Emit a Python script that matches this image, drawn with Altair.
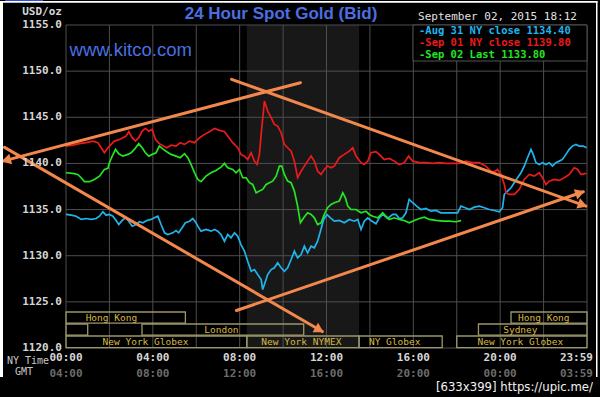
import math
import altair as alt
import pandas as pd

# ---------------- data (hours NY time, USD/oz) ----------------
AUG31 = [(0.0,1134.47),(0.24,1134.39),(0.47,1134.28),(0.70,1133.93),(0.93,1134.03),(1.16,1133.93),(1.39,1134.03),(1.54,1134.28),(1.70,1134.76),(1.85,1134.39),(2.00,1134.47),(2.16,1134.28),(2.31,1133.82),(2.43,1133.38),(2.59,1133.82),(2.74,1134.11),(2.89,1133.74),(3.05,1133.20),(3.23,1133.38),(3.38,1133.68),(3.54,1133.57),(3.72,1133.82),(3.92,1133.93),(4.07,1134.11),(4.23,1134.28),(4.38,1133.38),(4.54,1132.48),(4.69,1132.30),(4.92,1132.48),(5.07,1132.73),(5.19,1132.48),(5.35,1133.03),(5.50,1133.57),(5.69,1133.74),(5.84,1134.03),(5.99,1133.57),(6.07,1133.20),(6.22,1132.66),(6.45,1132.84),(6.68,1132.66),(6.84,1132.84),(6.99,1132.66),(7.14,1132.30),(7.30,1131.57),(7.45,1132.30),(7.60,1131.94),(7.76,1132.48),(7.91,1132.11),(8.06,1131.21),(8.22,1130.49),(8.37,1129.40),(8.53,1128.32),(8.68,1128.50),(8.83,1127.96),(8.99,1127.42),(9.06,1126.33),(9.14,1126.88),(9.29,1127.96),(9.45,1128.50),(9.60,1128.69),(9.75,1129.23),(9.91,1128.69),(10.06,1128.32),(10.21,1128.69),(10.37,1129.59),(10.52,1130.49),(10.67,1129.77),(10.83,1130.13),(10.98,1131.03),(11.13,1130.31),(11.29,1131.03),(11.44,1130.86),(11.59,1131.57),(11.72,1132.66),(11.87,1133.93),(12.02,1134.47),(12.18,1134.11),(12.36,1133.74),(12.59,1133.82),(12.82,1133.57),(13.05,1133.93),(13.28,1133.74),(13.44,1133.93),(13.59,1132.84),(13.74,1133.74),(13.90,1134.11),(14.05,1133.82),(14.28,1133.46),(14.43,1134.11),(14.59,1134.47),(14.82,1134.03),(15.05,1134.47),(15.20,1134.47),(15.35,1134.03),(15.51,1134.11),(15.66,1134.65),(15.81,1136.10),(15.97,1135.74),(16.15,1135.37),(16.35,1135.01),(16.58,1135.12),(16.81,1134.83),(17.04,1134.90),(17.27,1134.65),(17.50,1134.65),(17.81,1134.65),(18.04,1134.65),(18.19,1135.37),(18.39,1135.20),(18.58,1135.01),(18.81,1135.26),(19.04,1135.37),(19.27,1135.20),(19.50,1135.01),(19.73,1134.90),(19.96,1134.76),(20.11,1135.20),(20.19,1136.64),(20.34,1137.00),(20.50,1137.36),(20.65,1137.91),(20.80,1138.45),(20.96,1138.99),(21.11,1139.71),(21.26,1140.62),(21.42,1141.52),(21.52,1140.98),(21.65,1140.08),(21.80,1139.89),(21.95,1140.08),(22.11,1139.89),(22.26,1140.08),(22.41,1139.71),(22.57,1140.08),(22.72,1140.25),(22.87,1140.43),(23.03,1140.98),(23.18,1141.52),(23.33,1141.88),(23.49,1142.06),(23.64,1141.88),(23.83,1141.88),(23.98,1141.70)]

SEP01 = [(0.0,1141.88),(0.31,1141.98),(0.62,1142.14),(0.93,1142.25),(1.24,1142.42),(1.47,1142.25),(1.62,1141.70),(1.77,1141.16),(1.93,1141.70),(2.08,1142.06),(2.23,1142.42),(2.46,1142.60),(2.62,1142.79),(2.77,1142.96),(2.89,1143.44),(3.05,1142.79),(3.20,1142.42),(3.35,1142.79),(3.51,1143.50),(3.66,1143.80),(3.81,1143.50),(3.97,1143.69),(4.12,1142.60),(4.30,1142.14),(4.49,1141.88),(4.64,1141.70),(4.84,1141.98),(5.07,1141.88),(5.26,1142.25),(5.46,1142.06),(5.69,1142.42),(5.92,1142.25),(6.15,1142.79),(6.38,1143.15),(6.61,1143.44),(6.84,1143.80),(7.07,1143.58),(7.30,1143.44),(7.45,1142.96),(7.68,1142.25),(7.91,1141.70),(8.06,1140.98),(8.22,1140.79),(8.37,1140.43),(8.53,1141.16),(8.68,1140.25),(8.80,1139.89),(8.91,1140.98),(8.99,1143.15),(9.14,1146.76),(9.29,1145.67),(9.45,1144.96),(9.60,1144.23),(9.75,1144.05),(9.91,1143.33),(10.06,1142.06),(10.21,1141.70),(10.37,1141.33),(10.52,1140.25),(10.67,1138.45),(10.83,1139.16),(10.98,1139.71),(11.13,1140.25),(11.29,1140.79),(11.44,1140.25),(11.59,1139.16),(11.75,1138.81),(11.90,1139.35),(12.05,1139.71),(12.21,1139.53),(12.36,1139.71),(12.59,1140.62),(12.82,1140.98),(13.05,1141.33),(13.21,1141.70),(13.36,1140.79),(13.59,1140.08),(13.74,1139.89),(13.90,1140.25),(14.05,1141.16),(14.28,1141.27),(14.43,1140.98),(14.66,1140.43),(14.89,1140.54),(15.12,1140.25),(15.35,1139.89),(15.58,1140.08),(15.78,1140.79),(15.97,1140.25),(16.28,1140.08),(16.58,1140.08),(16.89,1140.00),(17.20,1140.08),(17.50,1140.00),(17.81,1140.00),(18.12,1140.00),(18.42,1140.25),(18.73,1140.08),(19.04,1140.08),(19.34,1139.71),(19.65,1138.99),(19.88,1139.35),(20.04,1138.81),(20.19,1137.72),(20.27,1136.82),(20.42,1136.64),(20.65,1136.64),(20.88,1137.18),(21.11,1138.26),(21.34,1138.81),(21.57,1138.62),(21.80,1138.99),(21.95,1138.45),(22.11,1137.72),(22.26,1138.08),(22.49,1138.26),(22.72,1138.16),(22.95,1138.45),(23.18,1138.81),(23.41,1139.53),(23.57,1139.35),(23.72,1138.81),(23.98,1138.92)]

SEP02 = [(0.0,1138.99),(0.31,1138.92),(0.54,1138.81),(0.70,1138.45),(0.85,1138.02),(1.08,1138.02),(1.31,1138.26),(1.54,1138.62),(1.77,1139.35),(1.93,1139.46),(2.00,1140.08),(2.13,1140.79),(2.28,1141.52),(2.43,1141.05),(2.62,1140.79),(2.85,1140.98),(3.00,1141.16),(3.15,1141.52),(3.35,1142.14),(3.51,1141.70),(3.66,1141.16),(3.81,1140.79),(3.97,1140.98),(4.15,1141.16),(4.30,1141.88),(4.49,1141.52),(4.64,1141.27),(4.84,1140.98),(5.07,1140.79),(5.26,1140.62),(5.46,1141.05),(5.61,1140.62),(5.76,1139.89),(5.92,1138.99),(6.07,1138.26),(6.22,1138.02),(6.45,1138.62),(6.68,1138.99),(6.91,1139.24),(7.14,1139.60),(7.30,1140.00),(7.45,1139.53),(7.68,1139.35),(7.83,1138.99),(7.99,1139.35),(8.14,1138.45),(8.30,1138.45),(8.45,1137.91),(8.60,1137.72),(8.76,1136.82),(8.91,1137.00),(9.06,1137.18),(9.22,1137.72),(9.37,1137.91),(9.52,1138.08),(9.68,1138.62),(9.83,1139.71),(9.94,1139.71),(10.06,1138.81),(10.21,1138.08),(10.37,1137.91),(10.52,1137.00),(10.67,1135.37),(10.80,1133.57),(10.95,1134.11),(11.13,1134.65),(11.29,1134.47),(11.44,1134.11),(11.59,1133.38),(11.75,1133.57),(11.90,1134.47),(12.05,1135.20),(12.21,1135.55),(12.36,1135.74),(12.59,1135.91),(12.75,1136.82),(12.87,1136.28),(12.98,1135.37),(13.13,1135.01),(13.36,1135.01),(13.59,1134.65),(13.82,1134.83),(13.97,1134.47),(14.13,1134.28),(14.36,1134.11),(14.59,1134.65),(14.74,1134.28),(14.89,1133.93),(15.12,1134.11),(15.35,1133.93),(15.58,1133.82),(15.81,1133.57),(16.04,1133.82),(16.28,1134.03),(16.51,1134.18),(16.74,1133.93),(17.04,1133.82),(17.35,1133.74),(17.66,1133.74),(17.96,1133.68),(18.20,1133.80)]

SERIES = [AUG31, SEP01, SEP02]
SERIES_COLORS = ["#1fb4ec", "#ec1a1a", "#22e622"]
LEGEND_TEXT = ["-Aug 31 NY close 1134.40", "-Sep 01 NY close 1139.80", "-Sep 02 Last 1133.80"]

Y_TICKS = [1120, 1125, 1130, 1135, 1140, 1145, 1150, 1155]
X_GRID = [0, 2, 4, 6, 8, 10, 12, 14, 16, 18, 20, 22, 24]
NY_HOURS = [0, 4, 8, 12, 16, 20]
NY_LABELS = ["00:00", "04:00", "08:00", "12:00", "16:00", "20:00"]
GMT_LABELS = ["04:00", "08:00", "12:00", "16:00", "20:00", "00:00"]
NY_LAST, GMT_LAST = "23:59", "03:59"

NYMEX_SHADE = [8.33, 13.5]

SESSION_NAME = ["Hong Kong", "", "London", "New York Globex", "New York NYMEX", "NY Globex", "New York Globex", "Sydney", "Hong Kong"]
SESSION_START = [0.0, 0.0, 3.5, 0.0, 8.33, 13.5, 18.0, 19.0, 20.5]
SESSION_END = [5.5, 1.0, 10.95, 8.33, 13.5, 17.33, 24.0, 24.0, 24.0]
SESSION_ROW = [1, 2, 2, 3, 3, 3, 3, 2, 1]
SESSION_LABEL_AT = [2.09, 0.5, 7.16, 3.66, 10.84, 15.14, 20.93, 20.93, 22.01]
ROW_LOW = {1: 1122.7, 2: 1121.4, 3: 1120.05}
ROW_HIGH = {1: 1123.9, 2: 1122.6, 3: 1121.3}

TREND_START_H = [-2.91, 7.63, -2.83, 7.85]
TREND_START_P = [1140.25, 1149.11, 1141.74, 1124.06]
TREND_END_H = [10.80, 23.95, 11.81, 23.83]
TREND_END_P = [1148.75, 1135.37, 1121.78, 1136.93]
TREND_ARROW_AT = ["start", "end", "end", "end"]

# ---------------- layout ----------------
W, H = 521, 323
XS = alt.Scale(domain=[0, 24], nice=False, zero=False)
YS = alt.Scale(domain=[1120, 1155], nice=False, zero=False)
MONO = "DejaVu Sans Mono"
ORANGE = "#f2884c"
GRID = "#4e4e4e"

def xq(f):
    return alt.X(f, type="quantitative", scale=XS, axis=None)

def yq(f):
    return alt.Y(f, type="quantitative", scale=YS, axis=None)

layers = []

# shaded NYMEX hours
shade = pd.DataFrame({"h0": [NYMEX_SHADE[0]], "h1": [NYMEX_SHADE[1]]})
layers.append(alt.Chart(shade).mark_rect(color="#181818").encode(
    x=xq("h0"), x2="h1", y=alt.value(0), y2=alt.value(H)))

# grid
layers.append(alt.Chart(pd.DataFrame({"h": X_GRID})).mark_rule(color=GRID, strokeWidth=1).encode(
    x=xq("h"), y=alt.value(0), y2=alt.value(H)))
layers.append(alt.Chart(pd.DataFrame({"p": Y_TICKS})).mark_rule(color=GRID, strokeWidth=1).encode(
    y=yq("p"), x=alt.value(0), x2=alt.value(W)))

# sessions
sess = pd.DataFrame({
    "name": SESSION_NAME, "h0": SESSION_START, "h1": SESSION_END,
    "lo": [ROW_LOW[r] for r in SESSION_ROW], "hi": [ROW_HIGH[r] for r in SESSION_ROW],
    "lab": SESSION_LABEL_AT,
})
sess["mid"] = (sess["lo"] + sess["hi"]) / 2
layers.append(alt.Chart(sess).mark_rect(fillOpacity=0, stroke="#9c976a", strokeWidth=1.3).encode(
    x=xq("h0"), x2="h1", y=yq("lo"), y2="hi"))
layers.append(alt.Chart(sess).mark_text(font=MONO, fontSize=9.5, color="#d9b844", baseline="middle").encode(
    x=xq("lab"), y=yq("mid"), text="name:N"))

# series lines
for pts, col in zip(SERIES, SERIES_COLORS):
    df = pd.DataFrame(pts, columns=["h", "p"])
    layers.append(alt.Chart(df).mark_line(color=col, strokeWidth=1.7).encode(
        x=xq("h"), y=yq("p"), order="h:Q"))

# orange trend annotations
tr = pd.DataFrame({"h0": TREND_START_H, "p0": TREND_START_P, "h1": TREND_END_H, "p1": TREND_END_P})
layers.append(alt.Chart(tr).mark_rule(color=ORANGE, strokeWidth=3, strokeCap="round").encode(
    x=xq("h0"), x2="h1", y=yq("p0"), y2="p1"))
PX_H, PX_P = W / 24, H / 35
heads = []
for sh, sp, eh, ep, at in zip(TREND_START_H, TREND_START_P, TREND_END_H, TREND_END_P, TREND_ARROW_AT):
    th, tp, fh, fp = (eh, ep, sh, sp) if at == "end" else (sh, sp, eh, ep)
    dx, dy = (th - fh) * PX_H, -(tp - fp) * PX_P
    L = math.hypot(dx, dy)
    ux, uy = dx / L, dy / L
    back = 5.0
    heads.append({"h": th - ux * back / PX_H, "p": tp + uy * back / PX_P,
                  "a": math.degrees(math.atan2(ux, -uy)) % 360})
layers.append(alt.Chart(pd.DataFrame(heads)).mark_point(shape="triangle", filled=True, size=120,
                                                         color=ORANGE, opacity=1, strokeWidth=0).encode(
    x=xq("h"), y=yq("p"), angle=alt.Angle("a:Q", scale=None)))

# legend box
layers.append(alt.Chart(pd.DataFrame({"k": [0]})).mark_rect(fill="#000000", stroke="#555555", strokeWidth=1).encode(
    x=alt.value(347), x2=alt.value(521), y=alt.value(0), y2=alt.value(36)))
leg = pd.DataFrame({"t": LEGEND_TEXT, "c": SERIES_COLORS})
leg["py"] = [6.4 + 11.6 * i for i in range(len(leg))]
layers.append(alt.Chart(leg).mark_text(font=MONO, fontSize=10.5, fontWeight="bold", align="left", baseline="middle").encode(
    x=alt.value(353), y=alt.Y("py:Q", scale=None, axis=None), text="t:N", color=alt.Color("c:N", scale=None)))

# y labels
ylab = pd.DataFrame({"p": Y_TICKS, "t": [f"{v:.1f}" for v in Y_TICKS]})
layers.append(alt.Chart(ylab).mark_text(font=MONO, fontSize=11, fontWeight="bold", color="#d6d6d6",
                                        align="right", baseline="middle").encode(
    x=alt.value(-4), y=yq("p"), text="t:N"))

# x labels (NY time and GMT)
xl = pd.DataFrame({"h": NY_HOURS, "ny": NY_LABELS, "gmt": GMT_LABELS})
layers.append(alt.Chart(xl).mark_text(font=MONO, fontSize=11, fontWeight="bold", color="#d6d6d6", baseline="middle").encode(
    x=xq("h"), y=alt.value(H + 10), text="ny:N"))
layers.append(alt.Chart(xl).mark_text(font=MONO, fontSize=11, fontWeight="bold", color="#6c6c6c", baseline="middle").encode(
    x=xq("h"), y=alt.value(H + 26), text="gmt:N"))
xe = pd.DataFrame({"h": [24], "ny": [NY_LAST], "gmt": [GMT_LAST]})
layers.append(alt.Chart(xe).mark_text(font=MONO, fontSize=11, fontWeight="bold", color="#d6d6d6", baseline="middle",
                                      align="right", dx=6).encode(
    x=xq("h"), y=alt.value(H + 10), text="ny:N"))
layers.append(alt.Chart(xe).mark_text(font=MONO, fontSize=11, fontWeight="bold", color="#6c6c6c", baseline="middle",
                                      align="right", dx=6).encode(
    x=xq("h"), y=alt.value(H + 26), text="gmt:N"))

def label(text, x, y, color, size, font=MONO, weight="normal", align="left"):
    return alt.Chart(pd.DataFrame({"t": [text]})).mark_text(
        font=font, fontSize=size, fontWeight=weight, color=color, align=align, baseline="middle").encode(
        x=alt.value(x), y=alt.value(y), text="t:N")

layers.append(label("NY Time", -59, H + 13, "#c8c8c8", 10))
layers.append(label("GMT", -51, H + 24, "#c8c8c8", 10))
layers.append(label("USD/oz", -4, -13, "#d6d6d6", 11, weight="bold", align="right"))
layers.append(label("24 Hour Spot Gold (Bid)", 215, -11, "#4b6fe2", 17, font="Liberation Sans", weight="bold", align="center"))
layers.append(label("www.kitco.com", 64.7, 25, "#4b6fe2", 18.5, font="Liberation Sans", align="center"))
layers.append(label("September 02, 2015 18:12", 431.5, -8, "#e2e2e2", 11, align="center"))

# bottom cut band + frame
layers.append(alt.Chart(pd.DataFrame({"k": [0]})).mark_rect(fill="#000000").encode(
    x=alt.value(-66), x2=alt.value(534), y=alt.value(352), y2=alt.value(372)))
layers.append(label("[633x399] https://upic.me/", 527, 362, "#f2f2f2", 13,
                    font="Liberation Sans Narrow, DejaVu Sans Condensed", align="right"))
frame = pd.DataFrame({"x0": [-66, -66, 530], "x1": [-63, 531.5, 531.5],
                      "y0": [-24, -24, -24], "y1": [352, -22.3, 352]})
layers.append(alt.Chart(frame).mark_rect(fill="#ffffff").encode(
    x=alt.X("x0:Q", scale=None, axis=None), x2="x1", y=alt.Y("y0:Q", scale=None, axis=None), y2="y1"))
layers.append(alt.Chart(pd.DataFrame({"k": [0]})).mark_rect(fill="#2d4fd6").encode(
    x=alt.value(-61), x2=alt.value(-23), y=alt.value(-25), y2=alt.value(-24)))

chart = alt.layer(*layers).properties(
    width=W, height=H,
    autosize=alt.AutoSizeParams(type="none"),
    padding={"left": 66, "top": 25, "right": 13, "bottom": 49},
    background="#000000",
).configure_view(stroke=None)

chart.save("out.html", embed_options={"renderer": "svg", "actions": False})
